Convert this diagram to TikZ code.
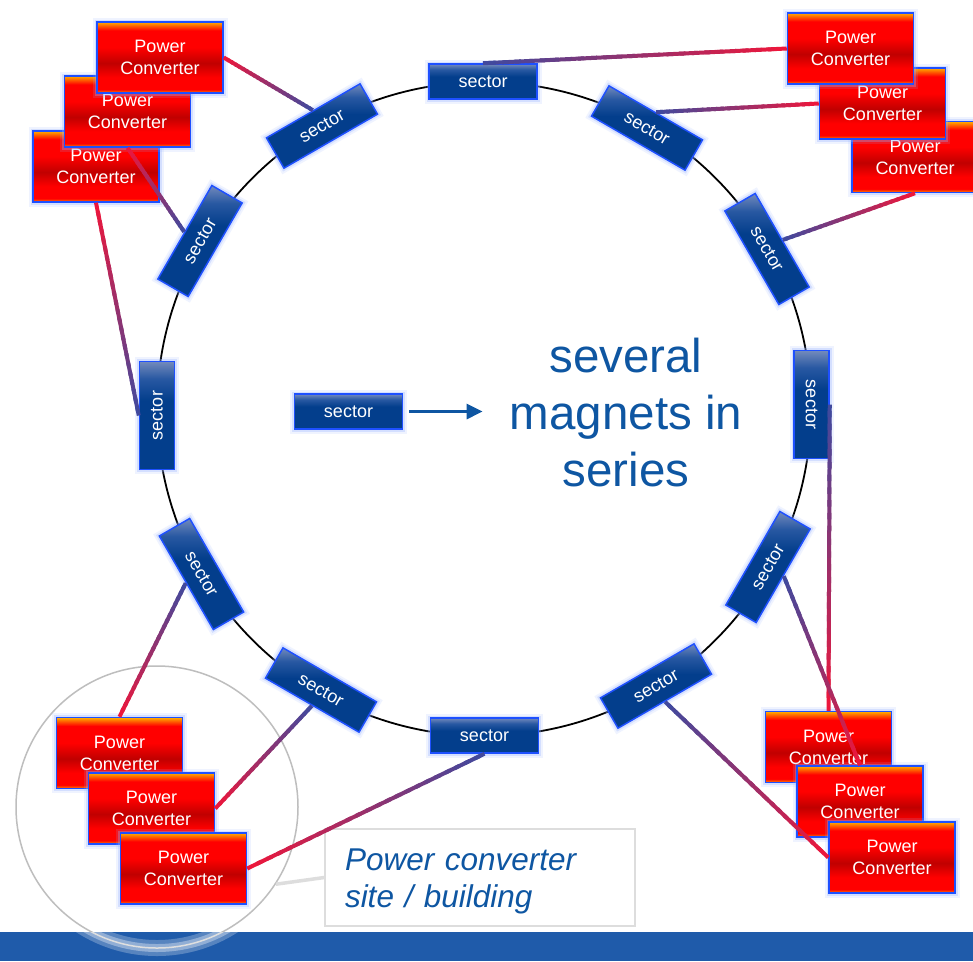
\documentclass[tikz,border=0pt]{standalone}
\usepackage{fontspec}
\setmainfont{Liberation Sans}
\usetikzlibrary{calc,arrows.meta}

\definecolor{bordblue}{RGB}{30,80,255}
\definecolor{glowc}{RGB}{150,180,255}
\definecolor{pcred}{RGB}{240,22,58}
\definecolor{secblue}{RGB}{60,75,160}
\definecolor{txtblue}{RGB}{14,86,162}
\definecolor{bandblue}{RGB}{31,91,170}
\definecolor{pcyel}{RGB}{255,175,0}
\definecolor{pcorg}{RGB}{255,85,0}
\definecolor{pcbot}{RGB}{255,140,0}
\definecolor{pcr}{RGB}{255,0,0}
\definecolor{pcdark}{RGB}{192,0,0}
\definecolor{secdark}{RGB}{3,62,140}
\definecolor{secmid}{RGB}{40,88,162}
\definecolor{seclight}{RGB}{115,138,188}
\definecolor{sitegray}{RGB}{190,190,190}
\definecolor{annotgray}{RGB}{221,221,221}

\pgfdeclareverticalshading{pcshade}{100bp}{color(0bp)=(pcbot); color(25bp)=(pcbot); color(27.5bp)=(pcr); color(36bp)=(pcr); color(46bp)=(pcdark); color(57bp)=(pcr); color(69bp)=(pcr); color(72bp)=(pcorg); color(75bp)=(pcyel); color(100bp)=(pcyel)}
\pgfdeclareverticalshading{secshade}{100bp}{color(0bp)=(secdark); color(25bp)=(secdark); color(57bp)=(secdark); color(67bp)=(secmid); color(75bp)=(seclight); color(100bp)=(seclight)}

\newcommand\gradline[2]{%
  \foreach \k in {1,...,24}{%
    \pgfmathsetmacro\ta{(\k-1)/24}%
    \pgfmathsetmacro\tb{min((\k+0.5)/24,1)}%
    \pgfmathtruncatemacro\pp{(\k-0.5)*100/24}%
    \draw[conn, draw=secblue!\pp!pcred] ($(#1)!\ta!(#2)$) -- ($(#1)!\tb!(#2)$);%
  }}

\begin{document}
\begin{tikzpicture}[x=1pt,y=-1pt,
  glow/.style={preaction={draw=glowc, line width=9pt, opacity=0.15},
               preaction={draw=glowc, line width=5pt, opacity=0.3}},
  pcbox/.style={glow, draw=bordblue, line width=1.5pt, shading=pcshade,
    minimum width=126pt, minimum height=71pt, inner sep=0pt, align=center,
    text=white, font=\fontsize{18}{22}\selectfont},
  secbox/.style={glow, draw=bordblue, line width=1.5pt, shading=secshade,
    minimum width=108pt, minimum height=35pt, inner sep=0pt,
    text=white, font=\fontsize{18}{22}\selectfont},
  conn/.style={line width=4pt},
  annot/.style={draw=annotgray, line width=1.5pt, fill=white, minimum width=310pt,
    minimum height=97pt, text width=270pt, inner xsep=20pt, inner ysep=0pt, align=left,
    text=txtblue, font=\fontsize{31.5}{37}\selectfont\itshape}
]
\clip (0,0) rectangle (973,961);
\fill[white] (0,0) rectangle (973,961);

% bottom band
\fill[bandblue] (0,932) rectangle (973,961);

% ring
\node[circle, draw=black, line width=1.8pt, minimum size=654pt, inner sep=0pt] (ring) at (484,409) {};

% site circle
\node[circle, draw=sitegray, line width=1.5pt, minimum size=282pt, inner sep=0pt] (site) at (157,807) {};
\begin{scope}
  \clip (0,932) rectangle (973,961);
  \draw[white, line width=16pt, opacity=0.25] (157,807) circle (141);
  \draw[white, line width=8pt, opacity=0.35] (157,807) circle (141);
\end{scope}

% annotation
\node[annot] (annot) at (480,877.5) {\rule{0pt}{29pt}Power converter\\site / building};
\draw[annotgray, line width=3.5pt] (site.-33) -- (annot.west);

% sectors
\node[secbox] (S90) at (483,81.5) {sector};
\node[secbox, rotate=-30] (S60) at (647,128) {sector};
\node[secbox, rotate=-60] (S30) at (767,249) {sector};
\node[secbox, rotate=-90] (S0) at (811.5,404.5) {sector};
\node[secbox, rotate=60] (S330) at (768,567) {sector};
\node[secbox, rotate=30] (S300) at (656,686) {sector};
\node[secbox] (S270) at (484.5,735.5) {sector};
\node[secbox, rotate=-30] (S240) at (321,690) {sector};
\node[secbox, rotate=-60] (S210) at (201.5,574) {sector};
\node[secbox, rotate=90] (S180) at (157,415.5) {sector};
\node[secbox, rotate=60] (S150) at (200,241) {sector};
\node[secbox, rotate=30] (S120) at (322,126) {sector};

% power converters (back to front)
\node[pcbox] (TL3) at (96,166.5) {Power\\Converter};
\node[pcbox] (TL2) at (127.5,111.5) {Power\\Converter};
\node[pcbox] (TL1) at (160,57.5) {Power\\Converter};
\node[pcbox] (TR3) at (915,157) {Power\\Converter};
\node[pcbox] (TR2) at (882.5,103.5) {Power\\Converter};
\node[pcbox] (TR1) at (850.5,48.5) {Power\\Converter};
\node[pcbox] (BL1) at (119.5,753) {Power\\Converter};
\node[pcbox] (BL2) at (151.5,808.5) {Power\\Converter};
\node[pcbox] (BL3) at (183.5,868.5) {Power\\Converter};
\node[pcbox] (BR1) at (828.5,747) {Power\\Converter};
\node[pcbox] (BR2) at (860,801.5) {Power\\Converter};
\node[pcbox] (BR3) at (892,857.5) {Power\\Converter};

% connectors
\gradline{TL1.east}{S120.north}
\gradline{TL2.south}{S150.north}
\gradline{TL3.south}{S180.north}
\gradline{TR1.west}{S90.north}
\gradline{TR2.west}{S60.north}
\gradline{TR3.south}{S30.north}
\gradline{BR1.north}{S0.north}
\gradline{BR2.north}{S330.south}
\gradline{BR3.west}{S300.south}
\gradline{BL1.north}{S210.south}
\gradline{BL2.east}{S240.south}
\gradline{BL3.east}{S270.south}

% centre legend
\node[secbox] (csec) at (348.5,411.5) {sector};
\node[align=center, text=txtblue, inner sep=0pt, font=\fontsize{47.5}{57}\selectfont] (txt) at (626,412.5) {several\\magnets in\\series};
\draw[txtblue, line width=3pt, -{Triangle[length=16pt,width=15pt]}, shorten <=6pt, shorten >=27pt] (csec.east) -- (csec.east -| txt.west);
\end{tikzpicture}
\end{document}
